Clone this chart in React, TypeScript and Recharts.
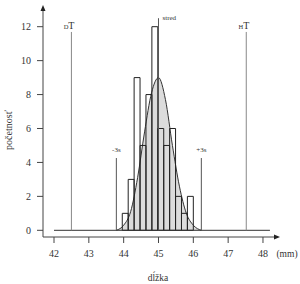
import { ComposedChart, Area, XAxis, YAxis, ReferenceArea, ReferenceLine, ReferenceDot } from "recharts"

// histogram bins (mm) and counts
const binEdges = [43.96, 44.13, 44.3, 44.47, 44.64, 44.81, 44.98, 45.15, 45.32, 45.49, 45.66, 45.83, 46.0]
const binCounts = [1, 3, 9, 5, 8, 12, 6, 5, 6, 2, 1, 2]

// normal curve
const curveX = [43.79, 44.0, 44.2, 44.4, 44.6, 44.8, 45.0, 45.2, 45.4, 45.6, 45.8, 46.0, 46.23]
const curveY = [0, 0.3, 1.1, 3.1, 5.8, 8.1, 9.0, 7.7, 5.0, 2.6, 1.0, 0.3, 0]

const xTicks = [42, 43, 44, 45, 46, 47, 48]
const yTicks = [0, 2, 4, 6, 8, 10, 12]

const limitMarks = [
  { sub: "D", x: 42.5 },
  { sub: "H", x: 47.52 },
]
const limitTop = 11.69
const sigmaMarks = [
  { label: "-3s", x: 43.79 },
  { label: "+3s", x: 46.23 },
]
const sigmaTop = 4.26
const meanX = 45.0
const meanTop = 12.5
const baselineRange = [42, 48.2]

const xDomain = [41.684, 48.345]
const yDomain = [-0.395, 12.984]

const curveData = curveX.map((x, i) => ({ x, y: curveY[i] }))

const axisColor = "#444"
const tickStyle = { fontSize: 10, fill: "#333" }

const App = () => {
  return (
    <div
      style={{
        position: "absolute",
        left: 0,
        top: 0,
        width: 300,
        height: 284,
        background: "#fff",
        fontFamily: '"Liberation Serif", serif',
        color: "#333",
      }}
    >
      <ComposedChart width={300} height={284} data={curveData} margin={{ top: 10, right: 25, bottom: 17, left: 13 }}>
        <XAxis
          dataKey="x"
          type="number"
          domain={xDomain}
          ticks={xTicks}
          allowDataOverflow
          height={30}
          tickSize={6}
          tickMargin={7}
          stroke={axisColor}
          tick={tickStyle}
        />
        <YAxis
          type="number"
          domain={yDomain}
          ticks={yTicks}
          allowDataOverflow
          width={30}
          tickSize={6}
          tickMargin={6}
          stroke={axisColor}
          tick={tickStyle}
        />
        <Area
          dataKey="y"
          type="monotone"
          baseValue={0}
          stroke="#333"
          strokeWidth={1}
          fill="#dcdcdc"
          fillOpacity={1}
          isAnimationActive={false}
        />
        {binCounts.map((count, i) => (
          <ReferenceArea
            key={`bin-${i}`}
            x1={binEdges[i]}
            x2={binEdges[i + 1]}
            y1={0}
            y2={count}
            fill="none"
            stroke="#222"
            strokeWidth={1}
            zIndex={150}
          />
        ))}
        <ReferenceLine
          segment={[
            { x: baselineRange[0], y: 0 },
            { x: baselineRange[1], y: 0 },
          ]}
          stroke="#333"
        />
        {limitMarks.map((m) => (
          <ReferenceLine
            key={`lim-${m.sub}`}
            segment={[
              { x: m.x, y: 0 },
              { x: m.x, y: limitTop },
            ]}
            stroke="#888"
          />
        ))}
        {sigmaMarks.map((m) => (
          <ReferenceLine
            key={`sig-${m.label}`}
            segment={[
              { x: m.x, y: 0 },
              { x: m.x, y: sigmaTop },
            ]}
            stroke="#555"
          />
        ))}
        <ReferenceLine
          segment={[
            { x: meanX, y: 0 },
            { x: meanX, y: meanTop },
          ]}
          stroke="#555"
        />
        {limitMarks.map((m) => (
          <ReferenceDot
            key={`limlab-${m.sub}`}
            x={m.x}
            y={limitTop}
            ifOverflow="visible"
            shape={(p: any) => (
              <g>
                <text x={p.cx - 3} y={p.cy - 3} textAnchor="end" fontSize={6.5} fill="#333">
                  {m.sub}
                </text>
                <text x={p.cx} y={p.cy - 3} textAnchor="middle" fontSize={10} fill="#333">
                  T
                </text>
              </g>
            )}
          />
        ))}
        {sigmaMarks.map((m) => (
          <ReferenceDot
            key={`siglab-${m.label}`}
            x={m.x}
            y={sigmaTop}
            ifOverflow="visible"
            shape={(p: any) => (
              <text x={p.cx} y={p.cy - 6} textAnchor="middle" fontSize={7} fill="#333">
                {m.label}
              </text>
            )}
          />
        ))}
        <ReferenceDot
          x={meanX}
          y={meanTop}
          ifOverflow="visible"
          shape={(p: any) => (
            <text x={p.cx + 4} y={p.cy + 2} fontSize={7} fill="#333">
              stred
            </text>
          )}
        />
        {/* axis arrows */}
        <ReferenceDot
          x={xDomain[0]}
          y={yDomain[1]}
          ifOverflow="visible"
          shape={(p: any) => (
            <polygon
              points={`${p.cx - 2.5},${p.cy + 1} ${p.cx},${p.cy - 5} ${p.cx + 2.5},${p.cy + 1}`}
              fill="#222"
            />
          )}
        />
        <ReferenceDot
          x={xDomain[1]}
          y={yDomain[0]}
          ifOverflow="visible"
          shape={(p: any) => (
            <polygon
              points={`${p.cx - 1},${p.cy - 2.5} ${p.cx + 5},${p.cy} ${p.cx - 1},${p.cy + 2.5}`}
              fill="#222"
            />
          )}
        />
      </ComposedChart>
      <div
        style={{
          position: "absolute",
          left: 8,
          top: 130,
          transform: "translate(-50%, -50%) rotate(-90deg)",
          fontSize: 10,
          whiteSpace: "nowrap",
        }}
      >
        početnosť
      </div>
      <div
        style={{
          position: "absolute",
          left: 287,
          top: 254,
          transform: "translate(-50%, -50%)",
          fontSize: 9.5,
          whiteSpace: "nowrap",
        }}
      >
        (mm)
      </div>
      <div
        style={{
          position: "absolute",
          left: 158,
          top: 278,
          transform: "translate(-50%, -50%)",
          fontSize: 9.5,
          whiteSpace: "nowrap",
        }}
      >
        dĺžka
      </div>
    </div>
  )
}

export default App
